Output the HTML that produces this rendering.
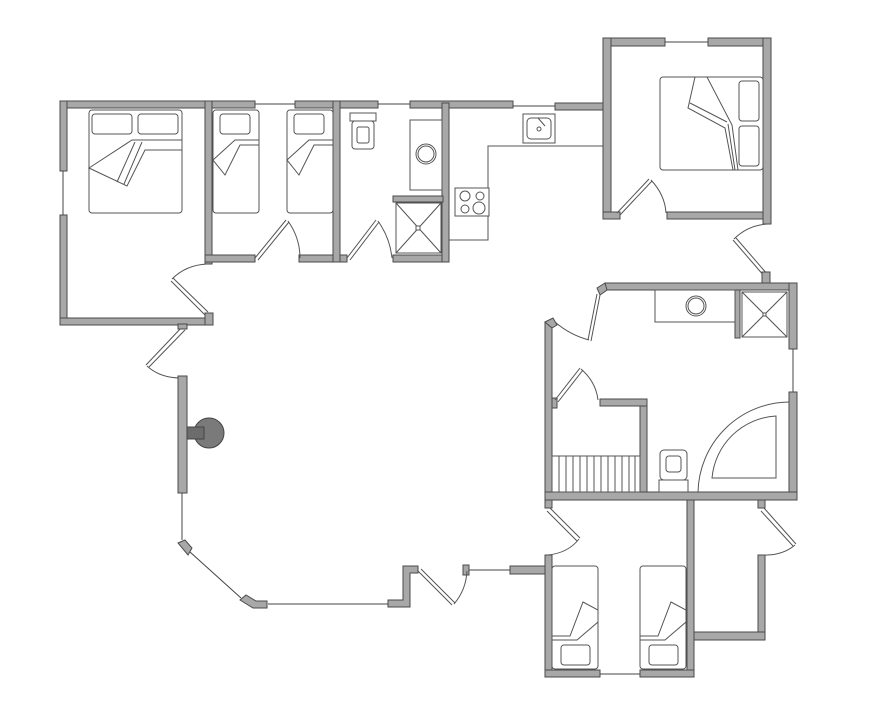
<!DOCTYPE html>
<html><head><meta charset="utf-8"><style>
html,body{margin:0;padding:0;background:#fff}
svg{display:block}
.w{fill:#a8a8a8;stroke:#4a4a4a;stroke-width:1}
.t{fill:none;stroke:#555;stroke-width:1}
.f{fill:#fff;stroke:#555;stroke-width:1}
.win{stroke:#444;stroke-width:1}
</style></head><body>
<svg width="869" height="714" viewBox="0 0 869 714" xmlns="http://www.w3.org/2000/svg">
<!-- LEFT BEDROOM BLOCK -->
<rect class="w" x="60" y="101" width="195" height="7"/>
<line class="win" x1="255" y1="104" x2="295" y2="104"/>
<rect class="w" x="295" y="101" width="83" height="7"/>
<line class="win" x1="378" y1="104" x2="410" y2="104"/>
<rect class="w" x="410" y="101" width="103" height="7"/>
<line class="win" x1="513" y1="106" x2="555" y2="106"/>
<rect class="w" x="555" y="103" width="50" height="7"/>
<rect class="w" x="60" y="101" width="7" height="70"/>
<line class="win" x1="63" y1="171" x2="63" y2="215"/>
<rect class="w" x="60" y="215" width="7" height="110"/>
<rect class="w" x="60" y="318" width="153" height="7"/>
<rect class="w" x="205" y="101" width="7" height="163"/>
<rect class="w" x="205" y="313" width="8" height="12"/>
<rect class="w" x="205" y="255" width="50" height="7"/>
<rect class="w" x="299" y="255" width="48" height="7"/>
<rect class="w" x="333" y="101" width="7" height="161"/>
<rect class="w" x="393" y="255" width="56" height="7"/>
<rect class="w" x="442" y="103" width="7" height="159"/>
<rect class="w" x="393" y="196" width="50" height="6"/>
<!-- shower left -->
<rect class="f" x="396" y="203" width="45" height="50"/>
<line class="t" x1="396" y1="203" x2="441" y2="253"/><line class="t" x1="441" y1="203" x2="396" y2="253"/>
<rect class="f" x="416" y="226" width="4" height="4"/>
<!-- counter bath -->
<rect class="f" x="410" y="120" width="32" height="70"/>
<circle class="t" cx="426" cy="154" r="10"/><circle class="t" cx="426" cy="154" r="8"/>
<!-- toilet -->
<rect class="f" x="350" y="113" width="26" height="8"/>
<rect class="f" x="352" y="121" width="22" height="28" rx="3"/>
<rect class="t" x="357" y="127" width="12" height="16" rx="2"/>
<!-- beds -->
<rect class="f" x="89" y="110" width="93" height="103" rx="3"/>
<rect class="t" x="92" y="114" width="40" height="20" rx="3"/>
<rect class="t" x="138" y="114" width="40" height="20" rx="3"/>
<path class="f" d="M89 168 L132 140 L182 140 L182 150 L145 150 L127 186 Z"/>
<path class="t" d="M135 142 L117 182 M142 142 L124 184 M145 140 L182 140"/>
<rect class="f" x="213" y="110" width="46" height="103" rx="3"/>
<rect class="t" x="220" y="114" width="30" height="20" rx="3"/>
<path class="f" d="M213 160 L235 140 L259 140 L259 145 L240 145 L225 175 Z"/>
<rect class="f" x="287" y="110" width="46" height="103" rx="3"/>
<rect class="t" x="294" y="114" width="30" height="20" rx="3"/>
<path class="f" d="M287 160 L309 140 L333 140 L333 145 L314 145 L299 175 Z"/>
<!-- doors left block -->
<path class="t" d="M255 258 L286 220 M258 260 L289 222"/><path class="t" d="M288 221 Q300 238 300 258"/>
<path class="t" d="M347 258 L376 220 M350 260 L379 222"/><path class="t" d="M378 221 Q390 238 392 258"/>
<path class="t" d="M208 312 L173 278 M205 315 L171 281"/><path class="t" d="M172 279 Q186 265 207 264"/>
<path class="t" d="M182 327 L146 365 M185 330 L149 367"/><path class="t" d="M147 366 Q160 378 181 378"/>
<rect class="w" x="178" y="324" width="9" height="5"/>
<!-- KITCHEN -->
<path class="t" d="M603 146 L488 146 L488 240 L449 240"/>
<rect class="f" x="523" y="114" width="32" height="29"/>
<rect class="t" x="527" y="118" width="24" height="21" rx="4"/>
<circle class="t" cx="539" cy="129" r="2"/><line class="t" x1="538" y1="118" x2="545" y2="126"/>
<rect class="f" x="455" y="188" width="34" height="28"/>
<circle class="t" cx="465" cy="196" r="5"/><circle class="t" cx="480" cy="196" r="4"/>
<circle class="t" cx="465" cy="209" r="4"/><circle class="t" cx="479" cy="208" r="6"/>
<!-- TOP RIGHT BEDROOM -->
<rect class="w" x="603" y="38" width="62" height="8"/>
<line class="win" x1="665" y1="42" x2="708" y2="42"/>
<rect class="w" x="708" y="38" width="63" height="8"/>
<rect class="w" x="603" y="38" width="8" height="181"/>
<rect class="w" x="603" y="212" width="17" height="7"/>
<rect class="w" x="667" y="212" width="104" height="7"/>
<rect class="w" x="763" y="38" width="8" height="186"/>
<rect class="f" x="660" y="77" width="103" height="93" rx="3"/>
<rect class="t" x="739" y="81" width="20" height="40" rx="3"/>
<rect class="t" x="739" y="126" width="20" height="40" rx="3"/>
<path class="f" d="M695 77 L688 108 L725 128 L733 170 L738 170 L732 125 L707 77 Z"/>
<path class="t" d="M690 103 L727 122 M728 124 L735 170"/>
<path class="t" d="M620 215 L652 181 M617 213 L649 179"/><path class="t" d="M651 180 Q665 195 666 213"/>
<!-- door between -->
<path class="t" d="M765 277 L733 240 M768 275 L736 238"/><path class="t" d="M734 239 Q748 225 768 224"/>
<rect class="w" x="762" y="272" width="8" height="12"/>
<!-- RIGHT BLOCK -->
<rect class="w" x="605" y="283" width="192" height="7"/>
<path class="w" d="M597 288 L605 283 L607 290 L600 295 Z"/>
<rect class="w" x="789" y="283" width="8" height="66"/>
<line class="win" x1="793" y1="349" x2="793" y2="392"/>
<rect class="w" x="789" y="392" width="8" height="108"/>
<rect class="w" x="545" y="322" width="7" height="178"/>
<path class="w" d="M545 322 L553 318 L557 325 L552 328 Z"/>
<rect class="w" x="545" y="492" width="252" height="8"/>
<rect class="w" x="640" y="399" width="7" height="93"/>
<rect class="w" x="600" y="399" width="47" height="7"/>
<rect class="w" x="552" y="398" width="5" height="10"/>
<rect class="w" x="735" y="290" width="5" height="48"/>
<!-- doors right block -->
<path class="t" d="M597 294 L588 340 M600 295 L591 341"/><path class="t" d="M589 340 Q570 335 555 322"/>
<path class="t" d="M555 400 L580 368 M558 402 L583 370"/><path class="t" d="M581 369 Q596 382 598 400"/>
<!-- stairs -->
<rect class="f" x="552" y="456" width="88" height="36"/>
<g class="t"><path d="M559 456V492M566 456V492M573 456V492M580 456V492M587 456V492M594 456V492M601 456V492M608 456V492M615 456V492M622 456V492M629 456V492M635 456V492"/></g>
<!-- counter sink shower -->
<rect class="f" x="655" y="290" width="80" height="32"/>
<circle class="t" cx="696" cy="306" r="10"/><circle class="t" cx="696" cy="306" r="8"/>
<rect class="f" x="742" y="292" width="45" height="45"/>
<line class="t" x1="742" y1="292" x2="787" y2="337"/><line class="t" x1="787" y1="292" x2="742" y2="337"/>
<rect class="f" x="763" y="313" width="3" height="3"/>
<!-- toilet right -->
<rect class="f" x="660" y="450" width="27" height="30" rx="4"/>
<rect class="t" x="666" y="456" width="15" height="16" rx="3"/>
<rect class="f" x="659" y="480" width="29" height="12"/>
<!-- quarter shower -->
<path class="t" d="M698 492 A92 92 0 0 1 789 402"/>
<path class="f" d="M712 478 A68 68 0 0 1 776 416 L776 478 Z"/>
<!-- BOTTOM RIGHT -->
<rect class="w" x="687" y="500" width="7" height="177"/>
<rect class="w" x="545" y="555" width="7" height="122"/>
<rect class="w" x="545" y="670" width="55" height="7"/>
<line class="win" x1="600" y1="674" x2="640" y2="674"/>
<rect class="w" x="640" y="670" width="54" height="7"/>
<rect class="w" x="758" y="555" width="7" height="85"/>
<rect class="w" x="694" y="632" width="71" height="8"/>
<rect class="w" x="758" y="500" width="7" height="8"/>
<rect class="w" x="545" y="500" width="7" height="8"/>
<path class="t" d="M550 508 L580 538 M547 511 L577 541"/><path class="t" d="M579 539 Q568 553 548 555"/>
<path class="t" d="M764 508 L796 544 M761 511 L793 546"/><path class="t" d="M795 545 Q782 556 762 555"/>
<rect class="f" x="552" y="566" width="46" height="103" rx="3"/>
<rect class="t" x="561" y="645" width="29" height="20" rx="3"/>
<path class="f" d="M552 636 L570 636 L583 602 L598 610 L598 622 L577 640 L552 640 Z"/>
<rect class="f" x="640" y="566" width="46" height="103" rx="3"/>
<rect class="t" x="649" y="645" width="29" height="20" rx="3"/>
<path class="f" d="M640 636 L658 636 L671 602 L686 610 L686 622 L665 640 L640 640 Z"/>
<!-- ENTRY / SOUTH -->
<rect class="w" x="510" y="566" width="35" height="8"/>
<line class="win" x1="467" y1="570" x2="510" y2="570"/>
<rect class="w" x="463" y="565" width="6" height="10"/>
<path class="w" d="M403 566 L418 566 L418 573 L410 573 L410 607 L388 607 L388 600 L403 600 Z"/>
<path class="t" d="M418 571 L452 605 M421 569 L455 603"/><path class="t" d="M454 604 Q466 590 467 571"/>
<line class="win" x1="268" y1="604" x2="388" y2="604"/>
<path class="w" d="M240 600 L246 595 L256 601 L267 601 L267 608 L253 608 Z"/>
<line class="win" x1="190" y1="552" x2="241" y2="598"/>
<path class="w" d="M178 543 L185 540 L192 548 L188 555 Z"/>
<line class="win" x1="182" y1="493" x2="182" y2="540"/>
<rect class="w" x="178" y="376" width="9" height="117"/>
<circle cx="209" cy="433" r="15" fill="#7a7a7a" stroke="#444"/>
<rect x="187" y="427" width="17" height="12" fill="#6c6c6c" stroke="#444"/>
</svg>
</body></html>
